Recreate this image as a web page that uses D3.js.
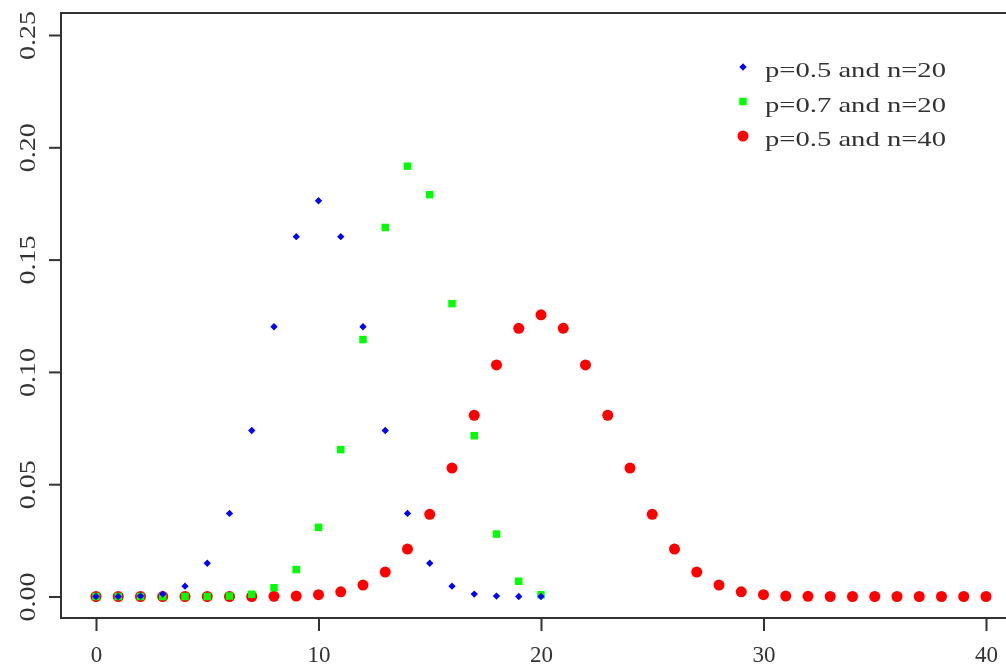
<!DOCTYPE html>
<html>
<head>
<meta charset="utf-8">
<script src="https://cdn.jsdelivr.net/npm/d3@7"></script>
<style>
  body { margin: 0; background: #fff; }
  svg { display: block; }
  text { font-family: "Liberation Serif", "DejaVu Serif", serif; fill: #333; }
</style>
</head>
<body>
<svg id="chart" width="1006" height="669"></svg>
<script>
// values (probabilities for k = 0..n)
let kBlue = d3.range(0, 21);
let pBlue = [0.0000, 0.0000, 0.0002, 0.0011, 0.0046, 0.0148, 0.0370, 0.0739, 0.1201, 0.1602,
             0.1762, 0.1602, 0.1201, 0.0739, 0.0370, 0.0148, 0.0046, 0.0011, 0.0002, 0.0000, 0.0000];

let kGreen = d3.range(0, 21);
let pGreen = [0.0000, 0.0000, 0.0000, 0.0000, 0.0000, 0.0000, 0.0002, 0.0010, 0.0039, 0.0120,
              0.0308, 0.0654, 0.1144, 0.1643, 0.1916, 0.1789, 0.1304, 0.0716, 0.0278, 0.0068, 0.0008];

let kRed = d3.range(0, 41);
let pRed = [0.0000, 0.0000, 0.0000, 0.0000, 0.0000, 0.0000, 0.0000, 0.0000, 0.0001, 0.0002,
            0.0008, 0.0021, 0.0051, 0.0109, 0.0211, 0.0366, 0.0572, 0.0807, 0.1031, 0.1194,
            0.1254, 0.1194, 0.1031, 0.0807, 0.0572, 0.0366, 0.0211, 0.0109, 0.0051, 0.0021,
            0.0008, 0.0002, 0.0001, 0.0000, 0.0000, 0.0000, 0.0000, 0.0000, 0.0000, 0.0000, 0.0000];

let xTicks = [0, 10, 20, 30, 40];
let yTicks = [0.00, 0.05, 0.10, 0.15, 0.20, 0.25];
let legendLabels = ['p=0.5 and n=20', 'p=0.7 and n=20', 'p=0.5 and n=40'];

let svg = d3.select('#chart');

// soft look of the original raster
let defs = svg.append('defs');
defs.append('filter').attr('id', 'soft')
  .append('feGaussianBlur').attr('stdDeviation', 0.6);

let g = svg.append('g').attr('filter', 'url(#soft)');

let x = d3.scaleLinear().domain([0, 40]).range([96, 986]);
let y = d3.scaleLinear().domain([0, 0.25]).range([596.5, 35]);

let boxLeft = 61, boxTop = 13, boxBottom = 618;

// box
g.append('path')
  .attr('d', `M1012,${boxTop}H${boxLeft}V${boxBottom}H1012`)
  .attr('fill', 'none')
  .attr('stroke', '#333')
  .attr('stroke-width', 2);

// x axis
let xAxis = g.append('g')
  .attr('transform', `translate(0,${boxBottom})`)
  .call(d3.axisBottom(x).tickValues(xTicks).tickFormat(d3.format('d')).tickSize(13).tickSizeOuter(0));
xAxis.select('.domain').remove();
xAxis.selectAll('line').attr('stroke', '#333').attr('stroke-width', 2);
xAxis.selectAll('text')
  .attr('y', 44)
  .attr('dy', 0)
  .attr('font-size', 23)
  .attr('fill', '#333')
  .style('font-family', '"Liberation Serif", serif');

// y axis
let yAxis = g.append('g')
  .attr('transform', `translate(${boxLeft},0)`)
  .call(d3.axisLeft(y).tickValues(yTicks).tickFormat(d3.format('.2f')).tickSize(12).tickSizeOuter(0));
yAxis.select('.domain').remove();
yAxis.selectAll('line').attr('stroke', '#333').attr('stroke-width', 2);
yAxis.selectAll('text')
  .attr('x', null).attr('dy', null)
  .attr('transform', 'translate(-26,0) rotate(-90)')
  .attr('text-anchor', 'middle')
  .attr('font-size', 24)
  .attr('textLength', 49)
  .attr('lengthAdjust', 'spacingAndGlyphs')
  .attr('fill', '#333')
  .style('font-family', '"Liberation Serif", serif');

// points: red below, green, blue on top
let symRed = d3.symbol().type(d3.symbolCircle).size(95);
let symGreen = d3.symbol().type(d3.symbolSquare).size(56);
let symBlue = d3.symbol().type(d3.symbolDiamond2).size(34);

g.append('g').selectAll('path')
  .data(kRed)
  .join('path')
  .attr('d', symRed)
  .attr('transform', d => `translate(${x(d)},${y(pRed[d])})`)
  .attr('fill', '#ff0000');

g.append('g').selectAll('path')
  .data(kGreen)
  .join('path')
  .attr('d', symGreen)
  .attr('transform', d => `translate(${x(d)},${y(pGreen[d])})`)
  .attr('fill', '#00ff00');

g.append('g').selectAll('path')
  .data(kBlue)
  .join('path')
  .attr('d', symBlue)
  .attr('transform', d => `translate(${x(d)},${y(pBlue[d])})`)
  .attr('fill', '#0000ff');

// legend
let legendSyms = [symBlue, symGreen, symRed];
let legendColors = ['#0000ff', '#00ff00', '#ff0000'];
let legend = g.append('g');
legendLabels.forEach(function(label, i) {
  let cy = 67 + i * 34.5;
  legend.append('path')
    .attr('d', legendSyms[i])
    .attr('transform', `translate(743,${cy})`)
    .attr('fill', legendColors[i]);
  legend.append('text')
    .attr('x', 765)
    .attr('y', cy + 10)
    .attr('font-size', 22)
    .attr('textLength', 181)
    .attr('lengthAdjust', 'spacingAndGlyphs')
    .text(label);
});
</script>
</body>
</html>
